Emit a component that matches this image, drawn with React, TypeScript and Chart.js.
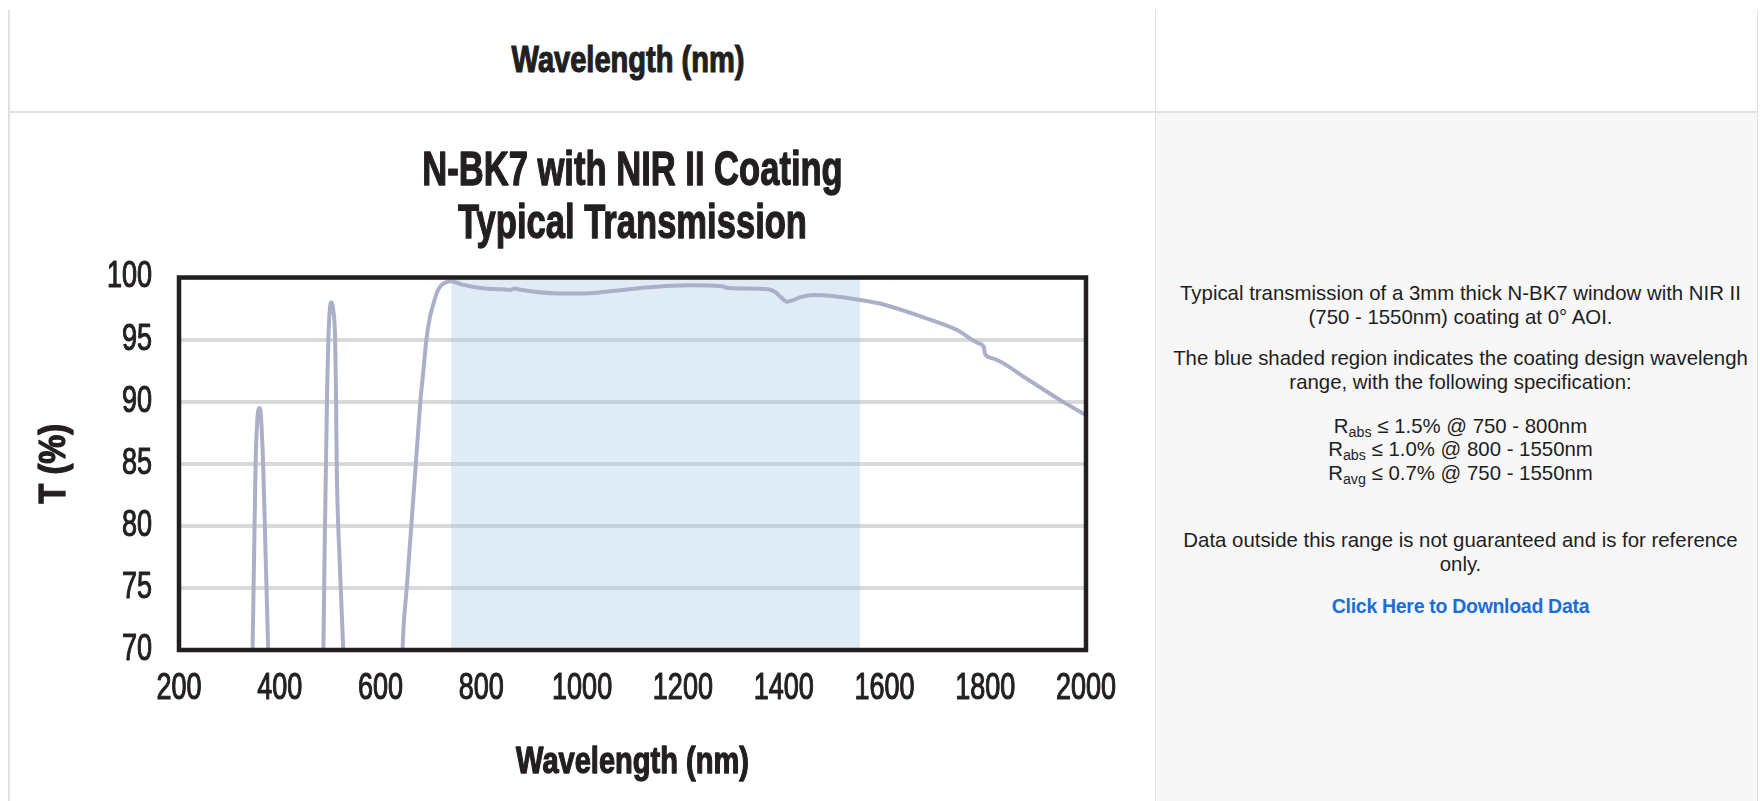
import React, { useEffect, useRef } from 'react';
import { Chart, registerables } from 'chart.js';

Chart.register(...registerables);

// ---- data ----
const WAVELENGTH_NM = [
  200, 300, 330, 340, 346, 349, 352, 355, 358, 360, 362, 364, 367, 372, 377, 383, 395,
  430, 470, 480, 486.5, 489, 491.7, 494, 496.4, 499, 502.4, 506, 509.9, 511.5, 513, 519, 526, 533, 545,
  580, 620, 635, 643.6, 652, 661, 670, 679, 685, 691, 698, 705, 712, 720, 730, 740, 760, 804, 840, 857, 866, 875,
  956, 1000, 1035, 1080, 1127, 1177, 1216, 1277, 1290, 1368, 1382, 1395, 1407, 1420, 1432, 1460, 1496,
  1552, 1602, 1673, 1744, 1787, 1797, 1800, 1815, 1886, 1957, 2000,
];
const TRANSMISSION_PCT = [
  5, 20, 40, 57, 70, 77.5, 85, 88.3, 89.4, 89.5, 89.2, 87.8, 85, 77.5, 70, 61, 40,
  20, 40, 55, 70, 78, 85, 91, 95, 97.3, 98, 97.4, 95, 91, 85, 77, 70, 62, 45,
  25, 35, 55, 70, 75, 80, 85, 90, 92.5, 95, 96.8, 97.9, 98.8, 99.35, 99.62, 99.7, 99.45, 99.13, 99.05, 99.0, 99.12, 99.03,
  98.72, 98.72, 98.8, 99.0, 99.2, 99.34, 99.37, 99.3, 99.15, 99.05, 98.86, 98.4, 98.05, 98.2, 98.4, 98.59, 98.51,
  98.19, 97.79, 96.85, 95.77, 94.7, 94.43, 93.8, 93.49, 91.75, 89.92, 88.93,
];
const DESIGN_RANGE_NM = [740, 1552];
const DESIGN_RANGE_TOP = [100, 100];

const TITLE_LINES = ['N-BK7 with NIR II Coating', 'Typical Transmission'];
const X_TITLE = 'Wavelength (nm)';
const Y_TITLE = 'T (%)';
const X_MIN = 200;
const X_MAX = 2000;
const X_STEP = 200;
const Y_MIN = 70;
const Y_MAX = 100;
const Y_STEP = 5;

const SANS = '"Liberation Sans", Arial, sans-serif';
const INK = '#231f20';

// horizontal squeeze + weight of the chart lettering (condensed face look)
function squeezeFor(text: string): number {
  if (TITLE_LINES.includes(text)) return 0.72;
  if (text === X_TITLE) return 0.785;
  if (text === Y_TITLE) return 0.88;
  return 0.75;
}
function strokeFor(text: string): number {
  if (TITLE_LINES.includes(text) || text === X_TITLE || text === Y_TITLE) return 1.3;
  return 1.1;
}

const framePlugin = {
  id: 'frame',
  afterDatasetsDraw(chart: any) {
    const { ctx, chartArea } = chart;
    const { left, top, right, bottom } = chartArea;
    ctx.save();
    ctx.strokeStyle = INK;
    ctx.lineWidth = 4.5;
    ctx.strokeRect(left, top, right - left, bottom - top);
    ctx.restore();
  },
};

export default function App() {
  const ref = useRef<HTMLCanvasElement>(null);

  useEffect(() => {
    const canvas = ref.current as HTMLCanvasElement;
    const ctx = canvas.getContext('2d') as CanvasRenderingContext2D;
    const origFill = ctx.fillText.bind(ctx);
    const origStroke = ctx.strokeText.bind(ctx);
    (ctx as any).fillText = (text: string, x: number, y: number, maxWidth?: number) => {
      const t = String(text);
      const s = squeezeFor(t);
      ctx.save();
      ctx.translate(x, y);
      ctx.scale(s, 1);
      ctx.lineWidth = strokeFor(t);
      ctx.lineJoin = 'round';
      ctx.strokeStyle = ctx.fillStyle;
      if (maxWidth === undefined) {
        origStroke(t, 0, 0);
        origFill(t, 0, 0);
      } else {
        origStroke(t, 0, 0, maxWidth / s);
        origFill(t, 0, 0, maxWidth / s);
      }
      ctx.restore();
    };

    const curve = WAVELENGTH_NM.map((x, i) => ({ x, y: TRANSMISSION_PCT[i] }));
    const band = DESIGN_RANGE_NM.map((x, i) => ({ x, y: DESIGN_RANGE_TOP[i] }));
    const chart = new Chart(canvas, {
      type: 'line',
      data: {
        datasets: [
          {
            label: 'Transmission',
            data: curve,
            borderColor: '#aab0c8',
            borderWidth: 4,
            pointRadius: 0,
            cubicInterpolationMode: 'monotone',
            fill: false,
          },
          {
            label: 'Design range',
            data: band,
            borderWidth: 0,
            borderColor: 'rgba(0,0,0,0)',
            pointRadius: 0,
            backgroundColor: 'rgba(154,195,227,0.32)',
            fill: 'start',
          },
        ],
      },
      options: {
        animation: false,
        responsive: false,
        devicePixelRatio: 1,
        layout: { padding: { left: 0, right: 68, top: 0, bottom: 11 } },
        plugins: {
          legend: { display: false },
          tooltip: { enabled: false },
          title: {
            display: true,
            text: TITLE_LINES,
            fullSize: false,
            color: INK,
            font: { family: SANS, size: 48, weight: 'bold', lineHeight: 53 / 48 },
            padding: { top: 32, bottom: 26.5 },
          },
        },
        scales: {
          x: {
            type: 'linear',
            min: X_MIN,
            max: X_MAX,
            ticks: {
              stepSize: X_STEP,
              autoSkip: false,
              maxRotation: 0,
              color: INK,
              padding: 17.5,
              font: { family: SANS, size: 36 },
              callback: (v: any) => String(v),
            },
            grid: { display: false, drawTicks: false },
            border: { display: false },
            title: {
              display: true,
              text: X_TITLE,
              color: INK,
              font: { family: SANS, size: 37, weight: 'bold' },
              padding: { top: 0, bottom: 4.8 },
            },
            afterFit(scale: any) {
              scale.height = 140;
            },
          },
          y: {
            min: Y_MIN,
            max: Y_MAX,
            ticks: {
              stepSize: Y_STEP,
              color: INK,
              padding: 27,
              font: { family: SANS, size: 36 },
              callback: (v: any) => String(v),
            },
            grid: { color: '#d9d9d9', lineWidth: 4, drawTicks: false },
            border: { display: false },
            title: {
              display: true,
              text: Y_TITLE,
              color: INK,
              font: { family: SANS, size: 37, weight: 'bold' },
              padding: { top: 32.8, bottom: 0 },
            },
            afterFit(scale: any) {
              scale.width = 179;
            },
          },
        },
      } as any,
      plugins: [framePlugin],
    });
    return () => {
      chart.destroy();
      (ctx as any).fillText = origFill;
    };
  }, []);

  const line = (top: number, children: React.ReactNode, extra: React.CSSProperties = {}) => (
    <div
      style={{
        position: 'absolute',
        left: 1160,
        top,
        width: 601,
        textAlign: 'center',
        fontSize: 20.4,
        lineHeight: '23.4px',
        color: '#1e1e1e',
        whiteSpace: 'nowrap',
        ...extra,
      }}
    >
      {children}
    </div>
  );
  const sub: React.CSSProperties = { fontSize: '0.7em', lineHeight: 0, verticalAlign: '-0.3em' };

  return (
    <div
      style={{
        position: 'absolute',
        left: 0,
        top: 0,
        width: 1760,
        height: 801,
        overflow: 'hidden',
        background: '#ffffff',
        fontFamily: SANS,
      }}
    >
      <div style={{ position: 'absolute', left: 1156, top: 113, width: 601, height: 688, background: '#f7f7f7' }} />
      <canvas
        ref={ref}
        width={1154}
        height={688}
        style={{ position: 'absolute', left: 0, top: 113, width: 1154, height: 688 }}
      />
      {/* table borders */}
      <div style={{ position: 'absolute', left: 8, top: 10, width: 2, height: 791, background: '#e0e1e7' }} />
      <div style={{ position: 'absolute', left: 1155, top: 10, width: 1, height: 791, background: '#dee2e6' }} />
      <div style={{ position: 'absolute', left: 1757, top: 10, width: 1, height: 791, background: '#dee2e6' }} />
      <div style={{ position: 'absolute', left: 8, top: 111, width: 1750, height: 2, background: '#dee2e6' }} />
      {/* header cell */}
      <div
        style={{
          position: 'absolute',
          left: 428,
          top: 40.7,
          width: 400,
          textAlign: 'center',
          fontWeight: 'bold',
          fontSize: 37,
          lineHeight: '37px',
          color: INK,
          transform: 'scaleX(0.785)',
          transformOrigin: '50% 50%',
          WebkitTextStroke: '1.2px #231f20',
        }}
      >
        Wavelength (nm)
      </div>
      {/* description cell */}
      {line(282.3, <>Typical transmission of a 3mm thick N-BK7 window with NIR II<br />(750 - 1550nm) coating at 0° AOI.</>)}
      {line(347.3, <>The blue shaded region indicates the coating design wavelengh<br />range, with the following specification:</>)}
      {line(
        414.8,
        <>
          R<span style={sub}>abs</span> ≤ 1.5% @ 750 - 800nm
          <br />
          R<span style={sub}>abs</span> ≤ 1.0% @ 800 - 1550nm
          <br />
          R<span style={sub}>avg</span> ≤ 0.7% @ 750 - 1550nm
        </>
      )}
      {line(529.3, <>Data outside this range is not guaranteed and is for reference<br />only.</>)}
      {line(595.3, <>Click Here to Download Data</>, { fontWeight: 'bold', color: '#1a6ed8', letterSpacing: '-0.3px', fontSize: 19.5 })}
    </div>
  );
}
